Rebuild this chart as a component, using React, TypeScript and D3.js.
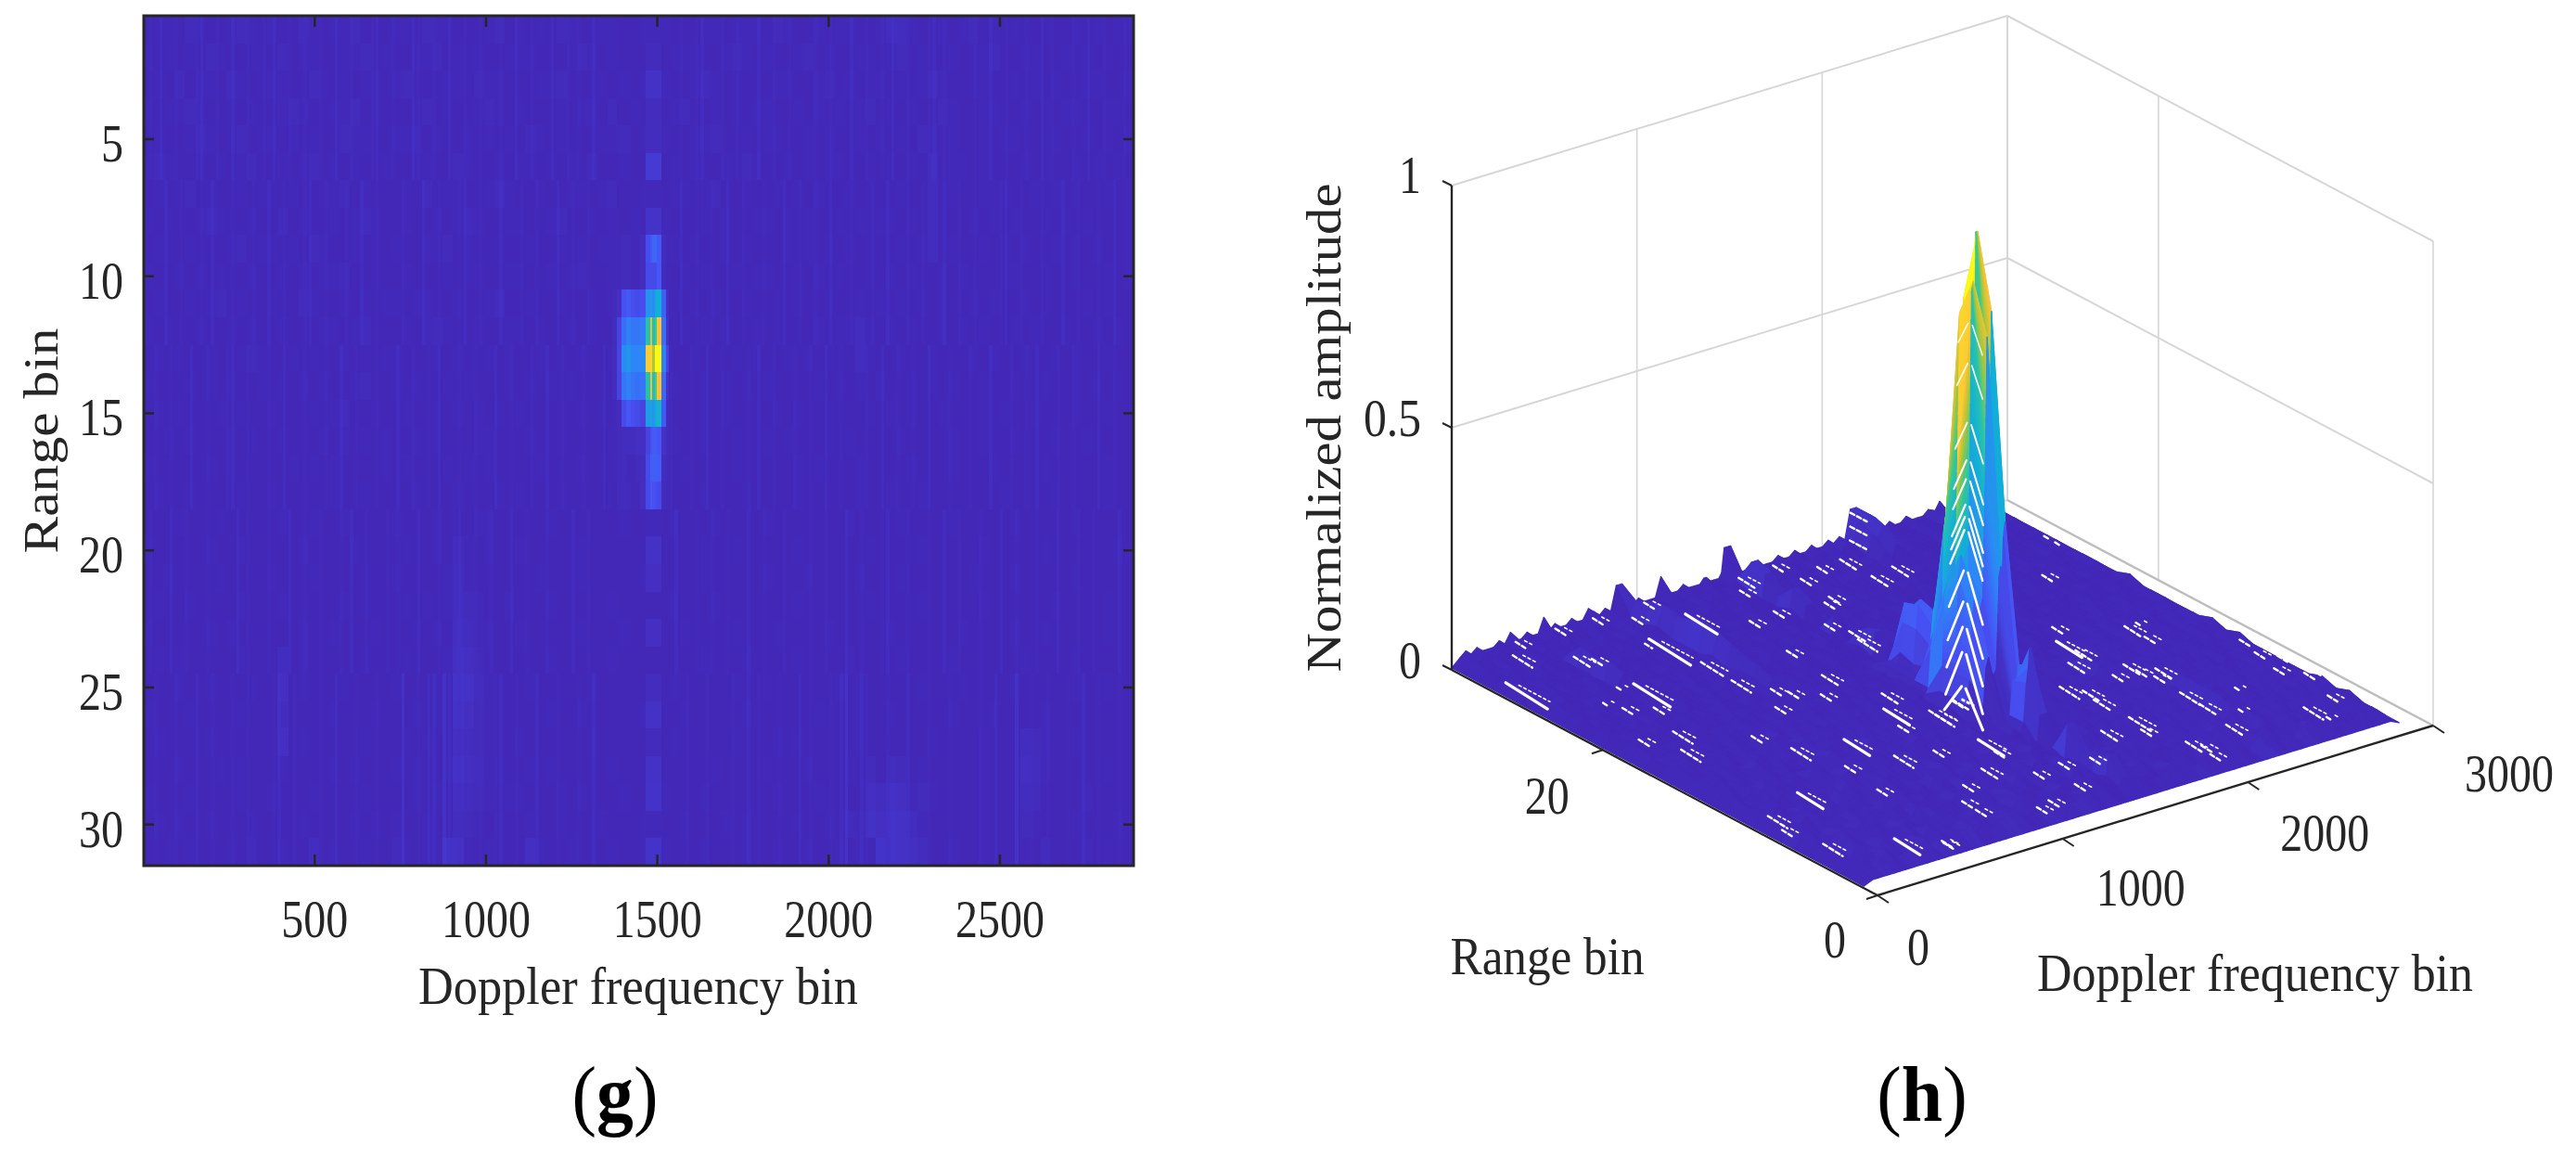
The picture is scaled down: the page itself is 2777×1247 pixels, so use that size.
import { useEffect, useRef } from "react";
import * as d3 from "d3";

// amplitude x 100, one character per doppler column (30 bins each), one row per range bin
const ampTable = [
  "233243223432 322432334222 332433222342 323243223322 323222332333 243223233223 553223234232 322322323233",
  "323232432233 242332233423 223342323223 332223432322 232333223432 322342322332 342322323342 233223232322",
  "232423324323 332243232332 342223324332 223342223232 323223432322 233223423233 232343223322 323232233223",
  "323343223232 234322334232 223423223432 322232332423 232342232323 322323232342 323224322332 232323322332",
  "232234323423 323232243322 334232232323 243232223342 323223342232 332232322323 232432322323 322332232323",
  "343223232342 232342323223 223322432232 332323242232 232323223243 223232332232 323252332322 232322323232",
  "232342322323 323223342322 232423322343 223223323422 322332342232 232323223232 232252322333 223232322323",
  "323223432232 242322323432 232232343223 322342232323 233222323223 323232232333 323252223232 322323232223",
  "233232223423 323243223232 322334232232 232232323342 322323223232 223232323232 232352322323 232232323223",
  "322323232232 232323342232 232223233223 322323422323 232232322323 322323232232 323223232223 322322322323",
  "232232342322 322432232323 323322322342 232232232323 322323232232 232322322323 232323223232 232322232322",
  "323223223232 232223323422 232343223223 323223232232 232232323223 232223233532 323223232322 323223223232",
  "232322322343 223232232323 322232322323 223232322323 323223222323 223232322532 232232223232 232232322322",
  "322232323223 232323223422 323223232223 232323222232 232322323232 322223232323 223232322322 322322323232",
  "232322232322 322232342232 232232323232 322232323223 323222323222 232322322232 323223222323 223222322322",
  "223232223232 232223232323 223232223322 232232222322 222322322322 323222323222 232222322322 322232232222",
  "322222323222 223232322223 232223232322 223222322232 232232222322 222323222322 223222322232 222322222322",
  "232232222322 322222322322 223222322232 322232222322 322222322232 222322222322 322322222223 222232222322",
  "222322232222 232232232222 322232223322 222322222232 222322232222 322222223222 232222322222 322222322222",
  "322222322322 222322223222 232232432322 322222322222 232222322322 222322222232 222322222322 222322222232",
  "223222232222 322232222322 322223532222 223222322222 322222322222 322232222322 232222223222 322222322222",
  "232232222322 232222232322 232323543223 222322222322 222322232222 222322222232 222322222322 222232222322",
  "322222323222 222322322232 223232653322 322222322232 222232222322 232222322222 322222232222 322322222322",
  "232322222322 252322222322 232223764322 222322222322 232222322232 222322223222 232222322222 232222322222",
  "222322322232 262322232222 322232875322 232222232222 222322222322 322222232322 222322232222 322222322322",
  "322232222322 252222322232 223232764322 222322322222 322232222232 222223222322 322222322232 222322222222",
  "232222322222 262322222322 232322654322 322222232222 222322222322 232322222322 222232222322 254322322222",
  "222322232322 232222323222 323223765332 232322222322 232222232222 322232223242 542322222322 265322222322",
  "322232222322 322232222322 223232654323 322232322232 223222322222 232223222265 763432222322 254222232222",
  "232322322232 222322223232 322322543232 232232223222 322232223232 222322324376 875322222322 243222322232",
  "223232223242 232252322322 432327732322 263223222322 323222322232 232232232328 876522322322 232422232322",
];

// thin vertical streaks of the map, 15 bins per character, per block of range bins
const streakBandStart = [1, 7, 13, 19, 25];
const streakTable = [
  "0102001000120010 0200100102001001 0010020010001200 1000210010020010 0100010020010002 0010100200100100 0100200010012000 1001000200100100 0010010002001001 0200100012010000 0100200100010020 1000100200100010",
  "1000200100010200 0100010020010001 2001000100200100 0010002001000120 0100020001001000 2001001000200100 1000100020010010 0200100010002001 0010020001000100 2000100100020010 0100001200100010 0020010001002000",
  "0010010002001000 1200100010020001 0001002001000100 0200100102000100 1000200100010020 0100010002001001 0020001000100200 1000010200100010 0100200100001002 0010010020001000 1000200010010200 0100100002001000",
  "0100020010001000 0020100010002001 0010001020010001 0100020001001200 1001000200100010 0002001000102000 1000100200010010 0100020010001000 0100100020010001 2000100010020010 0010002001000100 0200010010000200",
  "0010001000200100 0100100001200100 0010020001000100 0030010220320100 0100120010002000 1000100200100010 0200010001000100 0010020100010002 0100010230021000 1000200010001000 0010020003001001 0001002001000100",
];

// finer columns around the target, edges in doppler bins
const peakEdges = [1367, 1381, 1395, 1408, 1422, 1435, 1449, 1465, 1478, 1485, 1492, 1498, 1512, 1525, 1534];
const peakFirstRange = 9;
const peakAmps = [
  [0.03, 0.03, 0.04, 0.04, 0.03, 0.03, 0.05, 0.13, 0.16, 0.2, 0.2, 0.16, 0.05, 0.03],
  [0.03, 0.03, 0.04, 0.04, 0.03, 0.03, 0.05, 0.12, 0.12, 0.12, 0.12, 0.15, 0.04, 0.03],
  [0.04, 0.06, 0.14, 0.16, 0.13, 0.12, 0.13, 0.32, 0.34, 0.3, 0.4, 0.43, 0.18, 0.06],
  [0.05, 0.1, 0.22, 0.27, 0.24, 0.24, 0.26, 0.52, 0.8, 0.5, 0.58, 0.85, 0.22, 0.07],
  [0.05, 0.1, 0.3, 0.34, 0.28, 0.28, 0.3, 0.88, 0.9, 0.72, 1, 1, 0.27, 0.1],
  [0.05, 0.1, 0.24, 0.27, 0.24, 0.22, 0.24, 0.52, 0.82, 0.5, 0.6, 0.85, 0.2, 0.07],
  [0.03, 0.04, 0.12, 0.15, 0.13, 0.12, 0.1, 0.36, 0.38, 0.33, 0.4, 0.44, 0.16, 0.05],
  [0.03, 0.04, 0.05, 0.05, 0.05, 0.06, 0.06, 0.1, 0.14, 0.17, 0.17, 0.15, 0.07, 0.04],
  [0.03, 0.04, 0.05, 0.03, 0.03, 0.04, 0.05, 0.12, 0.17, 0.18, 0.18, 0.17, 0.05, 0.03],
  [0.02, 0.04, 0.05, 0.04, 0.03, 0.03, 0.06, 0.12, 0.16, 0.14, 0.13, 0.12, 0.04, 0.03],
];
// the target's doppler line, seen in all the other range bins
const stripeCols = [7, 8, 9, 10, 11];
const stripeAmps = [
  0.03, 0.04, 0.07, 0.05, 0.05, 0.09, 0.03, 0.08, 0.16, 0.1, 0.3, 0.5, 0.9, 0.5, 0.3, 0.13, 0.18, 0.16, 0.03, 0.07,
  0.06, 0.02, 0.06, 0.02, 0.05, 0.07, 0.04, 0.07, 0.08, 0.03, 0.08,
];

// gaps in the mesh: doppler, range, length in range bins
const meshGaps = [
  [334, 30.5, 0.8], [234, 29, 1.6], [26, 25.9, 3.4], [555, 30.5, 1], [435, 27.4, 1.3], [485, 26.9, 1], [751, 30.5, 0.8],
  [1028, 30.5, 0.8], [889, 29.4, 1], [766, 27, 0.6], [458, 22.6, 3], [388, 24, 0.5], [240, 23, 0.5], [273, 21.9, 0.8],
  [382, 21, 1], [834, 23.3, 1.8], [822, 21, 1.6], [1088, 27.5, 2.6], [799, 25.9, 3.4], [1510, 29.9, 1.3], [1434, 29, 0.8],
  [1709, 30.3, 0.8], [1851, 29, 0.8], [1717, 28.3, 1], [1698, 26, 1], [1646, 25.7, 0.8], [1415, 26.2, 1], [1270, 26, 1],
  [903, 19.5, 1], [944, 18.8, 1], [1166, 19.2, 1.3], [1039, 17.7, 1], [801, 17.8, 1], [532, 15.9, 1], [291, 18.1, 1.6],
  [201, 16.3, 1.6], [123, 18.6, 1], [588, 13.5, 1.6], [823, 12.6, 2.1], [891, 10.1, 1.6], [658, 10.8, 1], [319, 9.2, 2.1],
  [618, 8, 0.8], [69, 8.2, 1.6], [30, 7, 0.8], [78, 4.3, 1.6], [353, 2.6, 2.1], [507, 1.8, 0.8], [1204, 22.4, 1],
  [1543, 22.3, 1.3], [1519, 21.2, 1.6], [1506, 23.8, 0.8], [2109, 26.8, 1.3], [1976, 26.5, 1.3], [1976, 28.8, 1.3],
  [1252, 16, 1.3], [1156, 14.2, 2.1], [1302, 13, 1.8], [1455, 13.6, 1.3], [1101, 12.9, 1], [940, 6, 1], [1062, 9.8, 1],
  [2184, 15.5, 2.1], [2194, 14.6, 1.3], [2268, 12.1, 1.3], [2275, 11.4, 1], [2164, 11.7, 0.8], [2351, 10.9, 1.3],
  [2089, 13.7, 1.3], [1904, 11.7, 1.6], [1959, 10.9, 1.3], [1937, 9.8, 1.3], [1943, 7.1, 1.8], [1908, 6.1, 1],
  [1762, 6.9, 1.3], [1981, 3.7, 1.3], [2011, 3.1, 1], [1986, 2.2, 0.8], [1552, 5.1, 0.8], [1412, 5.4, 1], [1328, 3.1, 1],
  [1264, 5.3, 0.8], [1280, 9, 2.1], [1265, 8.2, 0.8], [1447, 13.6, 1], [1297, 12.6, 1.6], [1108, 6.8, 1.3], [1134, 2.4, 1],
  [823, 3.5, 1], [832, 4.7, 0.8], [1050, 2.2, 0.8], [500, 1.6, 0.8], [2606, 3.4, 1.6], [2626, 2.5, 0.5], [2229, 4.1, 1.3],
  [2271, 6.6, 1.3], [2374, 5.5, 0.5], [2279, 8, 1.6], [2298, 10.4, 1], [2518, 15.4, 1.3], [2520, 14.1, 1], [2583, 15.8, 0.5],
  [2827, 11.4, 0.8], [2797, 9.9, 0.8], [2853, 9, 0.8], [2833, 6.7, 1], [2768, 4.2, 0.8], [2502, 7.5, 0.5], [2760, 8, 0.8],
  [2569, 22.3, 0.8], [2826, 25, 0.4], [2829, 25.8, 0.5], [2266, 17.4, 1],
];
const gapAmp = 0.02;
// gaps on the bump near the far edge: doppler, range
const bumpGaps = [[1949, 27.7], [2040, 28.9], [2130, 30.1]];
const bumpGapAmp = 0.08;
// apex heights of the open chevrons on the near side of the peak
const chevronApex = [0.817, 0.734, 0.612, 0.535, 0.496, 0.444, 0.419, 0.392, 0.309, 0.245, 0.193, 0.141, 0.071];

const heatXTicks = [500, 1000, 1500, 2000, 2500];
const heatYTicks = [5, 10, 15, 20, 25, 30];
const zTicks = [0, 0.5, 1];
const dopplerTicks = [0, 1000, 2000, 3000];
const rangeTicks = [0, 20];
const wallDoppler = [1000, 2000, 3000];
const wallRange = [0, 20, 31];

const parulaStops = ["#421fac", "#4752f4", "#2d87f7", "#11b1d6", "#37c897", "#abc739", "#fec338", "#f9fb14"];

const ink = "#262626";
const font = "'Liberation Serif', serif";

const rows = ampTable.map((r) => r.replace(/ /g, ""));
const streaks = streakTable.map((r) => r.replace(/ /g, ""));
const baseStep = 2889 / 96;
const edges = [
  ...d3.range(97).map((i) => 1 + i * baseStep).filter((e) => e < peakEdges[0] || e > peakEdges[14]),
  ...peakEdges,
].sort(d3.ascending);
const nCols = edges.length - 1;
const centers = d3.range(nCols).map((c) => (edges[c] + edges[c + 1]) / 2);

// r is 1..31
function ampAt(r: number, c: number) {
  const center = centers[c];
  if (center > peakEdges[0] && center < peakEdges[14]) {
    const pc = d3.bisectRight(peakEdges, center) - 1;
    const pr = peakAmps[r - peakFirstRange];
    if (pr) return pr[pc];
    if (stripeCols.includes(pc)) return stripeAmps[r - 1];
  }
  const i = Math.min(95, Math.floor((center - 1) / baseStep));
  return parseInt(rows[r - 1].charAt(i), 36) / 100;
}

function Chart() {
  const svgRef = useRef<SVGSVGElement | null>(null);

  useEffect(() => {
    if (!svgRef.current) return;
    const svg = d3.select(svgRef.current);
    svg.selectAll("*").remove();

    const parula = d3
      .scaleLinear<string>()
      .domain(parulaStops.map((_, i) => i / 7))
      .range(parulaStops)
      .interpolate(d3.interpolateRgb)
      .clamp(true);
    // the low end is much flatter than the raw levels suggest
    const shade = d3.scaleLinear().domain([0, 0.02, 0.03, 0.08, 0.1, 1]).range([0.018, 0.022, 0.027, 0.055, 0.1, 1]);
    const color = (v: number) => parula(shade(v));

    const label = (
      g: any,
      text: string,
      x: number,
      y: number,
      size: number,
      width: number,
      anchor = "middle",
      rotate = false
    ) => {
      g.append("text")
        .attr("transform", rotate ? `translate(${x},${y}) rotate(-90)` : `translate(${x},${y})`)
        .attr("text-anchor", anchor)
        .attr("font-family", font)
        .attr("font-size", size)
        .attr("fill", ink)
        .attr("textLength", width)
        .attr("lengthAdjust", "spacingAndGlyphs")
        .text(text);
    };

    // ---------- (g) range-doppler map
    const heat = svg.append("g");
    const x = d3.scaleLinear().domain([1, 2890]).range([155, 1222]);
    const y = d3.scaleLinear().domain([0.5, 31.5]).range([17, 933]);

    const cells = d3.range(1, 32).flatMap((r) => d3.range(nCols).map((c) => ({ r, c, v: ampAt(r, c) })));
    heat
      .append("g")
      .attr("shape-rendering", "crispEdges")
      .selectAll("rect")
      .data(cells)
      .join("rect")
      .attr("x", (d) => x(edges[d.c]))
      .attr("y", (d) => y(d.r - 0.5))
      .attr("width", (d) => x(edges[d.c + 1]) - x(edges[d.c]) + 0.6)
      .attr("height", (d) => y(d.r + 0.5) - y(d.r - 0.5) + 0.6)
      .attr("fill", (d) => color(d.v));

    // streaks stop short of the target's band
    const streakStep = 2889 / 192;
    const streakCells = streaks.flatMap((s, band) =>
      d3
        .range(192)
        .map((i) => ({
          d0: 1 + i * streakStep,
          level: +s.charAt(i),
          r0: streakBandStart[band],
          r1: (streakBandStart[band + 1] ?? 32) - 1,
        }))
        .filter((d) => d.level > 0 && (d.d0 + streakStep < peakEdges[0] || d.d0 > peakEdges[14]))
    );
    heat
      .append("g")
      .attr("shape-rendering", "crispEdges")
      .selectAll("rect")
      .data(streakCells)
      .join("rect")
      .attr("x", (d) => x(d.d0))
      .attr("y", (d) => y(d.r0 - 0.5))
      .attr("width", (d) => x(d.d0 + streakStep * 0.6) - x(d.d0))
      .attr("height", (d) => y(d.r1 + 0.5) - y(d.r0 - 0.5))
      .attr("fill", (d) => parula(0.02 + d.level * 0.02))
      .attr("fill-opacity", 0.5);

    heat
      .append("rect")
      .attr("x", 155)
      .attr("y", 17)
      .attr("width", 1067)
      .attr("height", 916)
      .attr("fill", "none")
      .attr("stroke", ink)
      .attr("stroke-width", 3);

    const tickLine = (g: any, x1: number, y1: number, x2: number, y2: number, w = 2.5) =>
      g
        .append("line")
        .attr("x1", x1)
        .attr("y1", y1)
        .attr("x2", x2)
        .attr("y2", y2)
        .attr("stroke", ink)
        .attr("stroke-width", w);

    heatXTicks.forEach((t) => {
      tickLine(heat, x(t), 933, x(t), 921);
      tickLine(heat, x(t), 17, x(t), 29);
      label(heat, String(t), x(t), 1010, 58, String(t).length * 24);
    });
    heatYTicks.forEach((t) => {
      tickLine(heat, 155, y(t), 166, y(t));
      tickLine(heat, 1222, y(t), 1211, y(t));
      label(heat, String(t), 133, y(t) + 24, 58, String(t).length * 24, "end");
    });
    label(heat, "Doppler frequency bin", 688, 1082, 58, 474);
    label(heat, "Range bin", 62, 475, 52, 243, "middle", true);

    // ---------- (h) mesh, flat view with the range axis going up-left and doppler up-right
    const mesh = svg.append("g");
    const dopX = d3.scaleLinear().domain([0, 3000]).range([0, 599]);
    const dopY = d3.scaleLinear().domain([0, 3000]).range([0, -183]);
    const rngX = d3.scaleLinear().domain([0, 31]).range([0, -459]);
    const rngY = d3.scaleLinear().domain([0, 31]).range([0, -243]);
    const zY = d3.scaleLinear().domain([0, 1]).range([0, -522]);
    const project = (d: number, r: number, z = 0): [number, number] => [
      2024 + dopX(d) + rngX(r),
      965 + dopY(d) + rngY(r) + zY(z),
    ];

    const gridLine = (g: any, a: [number, number], b: [number, number], w: number, c = "#d6d6d6") =>
      g
        .append("line")
        .attr("x1", a[0])
        .attr("y1", a[1])
        .attr("x2", b[0])
        .attr("y2", b[1])
        .attr("stroke", c)
        .attr("stroke-width", w);

    // walls
    wallDoppler.forEach((d) => gridLine(mesh, project(d, 31, 0), project(d, 31, 1), 1.6));
    wallRange.forEach((r) => gridLine(mesh, project(3000, r, 0), project(3000, r, 1), 1.6));
    [0, 0.5, 1].forEach((z) => {
      gridLine(mesh, project(0, 31, z), project(3000, 31, z), 2);
      gridLine(mesh, project(3000, 31, z), project(3000, 0, z), z === 0 ? 2.4 : 2, z === 0 ? "#bdbdbd" : "#d6d6d6");
    });

    // surface, far cells first so that near cells cover them
    const vertexD = (c: number) => (c === 0 ? 1 : c === nCols - 1 ? 2890 : centers[c]);
    // the first and last doppler columns lie on the floor, the nearest range row is nearly flat
    const vertexZ = (r: number, c: number) =>
      c === 0 || c === nCols - 1 ? 0.004 : r === 1 && ampAt(r, c) < 0.1 ? 0.012 : ampAt(r, c);
    const line = d3.line();
    const surface = mesh.append("g").attr("stroke-linejoin", "round");
    for (let r = 30; r >= 1; r--) {
      for (let c = nCols - 2; c >= 0; c--) {
        const a0 = ampAt(r, c);
        const a1 = ampAt(r, c + 1);
        const steep = Math.max(Math.abs(a1 - a0), Math.abs(ampAt(r + 1, c + 1) - ampAt(r + 1, c))) > 0.15;
        // steep faces are shaded in slices, the mesh colours them by the height of the nearer row
        const n = steep ? 10 : 1;
        for (let s = n - 1; s >= 0; s--) {
          const t0 = s / n;
          const t1 = (s + 1) / n;
          const at = (rr: number, t: number): [number, number] => {
            const d = vertexD(c) + (vertexD(c + 1) - vertexD(c)) * t;
            const z = vertexZ(rr, c) + (vertexZ(rr, c + 1) - vertexZ(rr, c)) * t;
            return project(d, rr, z);
          };
          const col = steep ? color(a0 + (a1 - a0) * t1) : color(Math.max(a0, a1));
          surface
            .append("path")
            .attr("d", line([at(r, t0), at(r, t1), at(r + 1, t1), at(r + 1, t0)]) + "Z")
            .attr("fill", col)
            .attr("stroke", col)
            .attr("stroke-width", steep ? 1 : 1.4);
        }
      }
    }

    // white flecks where the real mesh opens up, each one is a pair of broken lines
    const gaps = mesh.append("g").attr("stroke", "#fff").attr("stroke-linecap", "round").attr("fill", "none");
    meshGaps.forEach(([d, r, len]) => {
      gaps
        .append("path")
        .attr("d", line([project(d + 4 * len, r + len / 2, gapAmp), project(d - 4 * len, r - len / 2, gapAmp)]))
        .attr("stroke-width", len > 2 ? 3.2 : 2.4)
        .attr("stroke-dasharray", len > 2 ? "none" : "5 3");
      gaps
        .append("path")
        .attr("d", line([project(d + 42, r + len / 3, gapAmp), project(d + 42, r - len / 3, gapAmp)]))
        .attr("stroke-width", 1.6)
        .attr("stroke-dasharray", "3 3");
    });
    bumpGaps.forEach(([d, r]) => {
      gaps
        .append("path")
        .attr("d", line([project(d, r + 0.6, bumpGapAmp), project(d, r - 0.6, bumpGapAmp)]))
        .attr("stroke-width", 2.4)
        .attr("stroke-dasharray", "5 3");
    });
    chevronApex.forEach((z, i) => {
      const d = 1465 - i * 3;
      const leg = Math.min(z, 0.04 + (1 - z) * 0.08);
      const spread = 0.6 + (1 - z) * 0.7;
      const w = 1 + (1 - z) * 2.2;
      gaps
        .append("path")
        .attr("d", line([project(d, 13.15, z - 0.004), project(d, 13.15 + spread, z - leg)]))
        .attr("stroke-width", w);
      gaps
        .append("path")
        .attr("d", line([project(d, 12.85, z - 0.004), project(d, 12.85 - spread, z - leg)]))
        .attr("stroke-width", w);
    });

    // axes
    const axis = mesh.append("g");
    const corner = (p: [number, number], q: [number, number]) => gridLine(axis, p, q, 2.4, ink);
    corner(project(0, 31, 0), project(0, 0, 0));
    corner(project(0, 0, 0), project(3000, 0, 0));
    corner(project(0, 31, 0), project(0, 31, 1));

    const tickX = 12;
    dopplerTicks.forEach((d) => {
      const [px, py] = project(d, 0);
      tickLine(axis, px, py, px + tickX, py + 8, 2);
    });
    rangeTicks.forEach((r) => {
      const [px, py] = project(0, r);
      tickLine(axis, px, py, px - tickX, py + 4, 2);
    });
    zTicks.forEach((z) => {
      const [px, py] = project(0, 31, z);
      tickLine(axis, px, py, px - 10, py - 5, 2);
    });

    const tickAt = [
      ["1", 1532, 208],
      ["0.5", 1532, 470],
      ["0", 1532, 731],
    ] as const;
    tickAt.forEach(([t, tx, ty]) => label(mesh, t, tx, ty, 58, t.length === 3 ? 62 : 24, "end"));
    label(mesh, "Normalized amplitude", 1445, 461, 52, 527, "middle", true);

    const rangeLabelOffset = { 0: [-46, 67], 20: [-60, 69] } as Record<number, number[]>;
    rangeTicks.forEach((r) => {
      const [px, py] = project(0, r);
      const [ox, oy] = rangeLabelOffset[r];
      label(mesh, String(r), px + ox, py + oy, 58, String(r).length * 24);
    });
    const dopplerLabelOffset = { 0: [44, 75], 1000: [84, 72], 2000: [83, 74], 3000: [82, 71] } as Record<number, number[]>;
    dopplerTicks.forEach((d) => {
      const [px, py] = project(d, 0);
      const [ox, oy] = dopplerLabelOffset[d];
      label(mesh, String(d), px + ox, py + oy, 58, String(d).length * 24);
    });
    label(mesh, "Range bin", 1668, 1050, 58, 209);
    label(mesh, "Doppler frequency bin", 2431, 1068, 58, 470);

    // panel letters
    const panels = [
      ["g", 663],
      ["h", 2072],
    ] as const;
    panels.forEach(([letter, px]) => {
      const t = svg
        .append("text")
        .attr("transform", `translate(${px},1208) scale(0.95,1)`)
        .attr("text-anchor", "middle")
        .attr("font-family", font)
        .attr("font-size", 84)
        .attr("fill", "#000");
      t.append("tspan").text("(");
      t.append("tspan").attr("font-weight", "bold").text(letter);
      t.append("tspan").text(")");
    });
  }, []);

  return (
    <svg
      ref={svgRef}
      width={2777}
      height={1247}
      style={{ position: "absolute", left: 0, top: 0, background: "#fff" }}
    ></svg>
  );
}

export default function App() {
  return <Chart />;
}
